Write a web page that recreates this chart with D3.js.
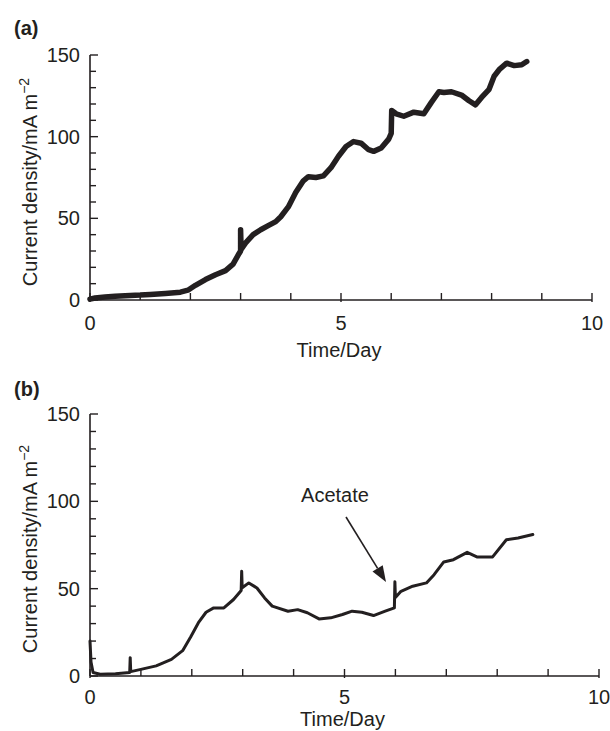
<!DOCTYPE html>
<html><head><meta charset="utf-8">
<script src="https://cdn.jsdelivr.net/npm/d3@7"></script>
<style>
body{margin:0;background:#fff;}
svg text{font-family:"Liberation Sans",Arial,Helvetica,sans-serif;fill:#231f20;}
</style></head>
<body><svg id="c" width="610" height="731"></svg>
<script>
// ---- data ----
const xTicks = [0, 5, 10];
const yTicks = [0, 50, 100, 150];

const daysA = [0,0.1,0.3,0.5,0.8,1.0,1.2,1.5,1.8,1.95,2.1,2.3,2.5,2.7,2.85,2.97,3.0,3.0,3.01,3.1,3.25,3.4,3.55,3.7,3.8,3.95,4.1,4.25,4.35,4.5,4.65,4.8,4.95,5.1,5.25,5.4,5.55,5.65,5.8,5.95,6.0,6.01,6.1,6.25,6.45,6.65,6.8,6.95,7.05,7.2,7.4,7.55,7.68,7.8,7.95,8.05,8.15,8.3,8.45,8.6,8.7];
const currentA = [0.5,1.2,1.8,2.3,2.8,3.0,3.4,4.0,4.8,6,9,12.5,15.5,18,22,28.5,30,43,31,35,40,43,45.5,48,51,57,66,73,75.5,75,76,81,88,94,97,96,92,91,93,98.5,102,116,114,112.5,115,114,121,127.5,127,127.5,125.5,122,119.5,124,129,137,141,145,143.5,144,146];

const daysB = [0,0.02,0.06,0.2,0.5,0.78,0.79,0.8,1.0,1.3,1.6,1.82,1.98,2.13,2.28,2.43,2.63,2.82,2.97,2.98,2.99,3.12,3.28,3.43,3.58,3.89,4.08,4.27,4.5,4.73,4.96,5.15,5.34,5.57,5.8,5.98,5.99,6.0,6.11,6.34,6.61,6.76,6.95,7.14,7.41,7.6,7.91,8.18,8.41,8.7];
const currentB = [20,8,2,1,1.3,2,10.5,2.5,3.8,5.8,9.5,14.5,22.5,30.5,36.5,39,39,43.8,49,60,50.5,53.3,50.4,44.7,40,37.1,38,36.2,32.7,33.3,35.2,37.1,36.5,34.6,37.1,39,54,45,48.5,51.4,53.3,58,65.3,66.6,70.8,68.2,68.2,78,79,81];

const panels = [
  {label:"(a)", days:daysA, cur:currentA, x0:90, x1:592, y0:300, y1:55, lw:5.5, labY:35, yTitleC:182, xLabY:330, xTitleY:357},
  {label:"(b)", days:daysB, cur:currentB, x0:90, x1:599, y0:676, y1:414, lw:3, labY:396, yTitleC:549, xLabY:704, xTitleY:726}
];

const svg = d3.select("#c");
const ink = "#231f20";

panels.forEach((p, i) => {
  const x = d3.scaleLinear().domain([0,10]).range([p.x0, p.x1]);
  const y = d3.scaleLinear().domain([0,150]).range([p.y0, p.y1]);
  const g = svg.append("g");

  g.append("line").attr("x1",p.x0).attr("x2",p.x0).attr("y1",p.y0).attr("y2",p.y1)
    .attr("stroke",ink).attr("stroke-width",1.6);
  g.append("line").attr("x1",p.x0).attr("x2",p.x1).attr("y1",p.y0).attr("y2",p.y0)
    .attr("stroke",ink).attr("stroke-width",1.6);

  d3.range(0,151,10).forEach(v => {
    const major = v % 50 === 0;
    g.append("line").attr("x1",p.x0).attr("x2",p.x0 + (major?8:6))
      .attr("y1",y(v)).attr("y2",y(v)).attr("stroke",ink).attr("stroke-width",1.4);
  });
  d3.range(0,11,1).forEach(v => {
    g.append("line").attr("x1",x(v)).attr("x2",x(v))
      .attr("y1",p.y0 + (v%5===0?2:0)).attr("y2",p.y0-7).attr("stroke",ink).attr("stroke-width",1.4);
  });

  yTicks.forEach(v => {
    g.append("text").attr("x",p.x0-10).attr("y",y(v)+7).attr("text-anchor","end")
      .attr("font-size",20).text(v);
  });
  xTicks.forEach(v => {
    g.append("text").attr("x",x(v)).attr("y",p.xLabY).attr("text-anchor","middle")
      .attr("font-size",20).text(v);
  });

  g.append("text").attr("x",(p.x0+p.x1)/2 - 2).attr("y",p.xTitleY).attr("text-anchor","middle")
    .attr("font-size",20).text("Time/Day");
  const yt = g.append("text").attr("transform",`translate(37,${p.yTitleC}) rotate(-90)`)
    .attr("text-anchor","middle").attr("font-size",20);
  yt.append("tspan").text("Current density/mA m");
  yt.append("tspan").attr("dy",-8).attr("font-size",14).text("\u22122");

  g.append("text").attr("x",14).attr("y",p.labY).attr("font-size",20).attr("font-weight","bold").text(p.label);

  const line = d3.line().x((d,j)=>x(p.days[j])).y((d,j)=>y(p.cur[j]));
  g.append("path").datum(p.cur).attr("d",line).attr("fill","none")
    .attr("stroke",ink).attr("stroke-width",p.lw).attr("stroke-linejoin","round").attr("stroke-linecap","round");

  if (i === 1) {
    g.append("text").attr("x",335).attr("y",502).attr("text-anchor","middle").attr("font-size",20).text("Acetate");
    const tip = [386, 582], start = [346, 517];
    const ang = Math.atan2(tip[1]-start[1], tip[0]-start[0]);
    const L = 16, W = 6;
    const bx = tip[0] - L*Math.cos(ang), by = tip[1] - L*Math.sin(ang);
    g.append("line").attr("x1",start[0]).attr("y1",start[1]).attr("x2",bx).attr("y2",by)
      .attr("stroke",ink).attr("stroke-width",1.6);
    const px = -Math.sin(ang), py = Math.cos(ang);
    g.append("path").attr("d",`M${tip[0]},${tip[1]}L${bx+W*px},${by+W*py}L${bx-W*px},${by-W*py}Z`).attr("fill",ink);
  }
});
</script></body></html>
